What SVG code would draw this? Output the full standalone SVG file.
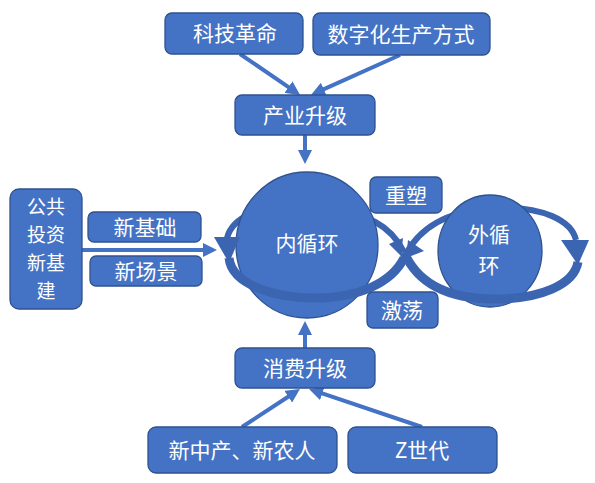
<svg xmlns="http://www.w3.org/2000/svg" width="595" height="483" viewBox="0 0 595 483">
<defs>
<style>
.box{fill:#4472C4;stroke:#2F528F;stroke-width:1.3}
.t{fill:#FFFFFF;font-family:"Noto Sans CJK SC","Noto Sans",sans-serif;font-size:21px;text-anchor:middle}
.ts{font-size:19px}
.ln{stroke:#4472C4;stroke-width:4;fill:none;marker-end:url(#ah)}
.band{fill:none;stroke:#3B65B1;stroke-linecap:butt}
.head{fill:#3B65B1}
</style>
<marker id="ah" markerUnits="userSpaceOnUse" markerWidth="14" markerHeight="14" viewBox="0 0 14 14" refX="4" refY="7" orient="auto">
<path d="M0,0 L14,7 L0,14 z" fill="#4472C4"/>
</marker>
</defs>
<rect width="595" height="483" fill="#FFFFFF"/>

<g id="connectors">
<line class="ln" x1="240" y1="54" x2="291.8" y2="89.3"/>
<line class="ln" x1="400" y1="55" x2="320.1" y2="90.8"/>
<line class="ln" x1="305" y1="135" x2="305" y2="154"/>
<line class="ln" x1="82" y1="250" x2="207" y2="250"/>
<line class="ln" x1="305" y1="348" x2="305" y2="331"/>
<line class="ln" x1="242" y1="427" x2="291.6" y2="394.5"/>
<line class="ln" x1="422" y1="427" x2="318.5" y2="392.2"/>
</g>

<g id="rings-back">
<path class="band" stroke-width="6" d="M404 252 C392 228,372 212,310 206 C260 203,232 218,227 238"/>
<path class="band" stroke-width="6" d="M404 258 C416 232,440 212,490 208 C545 205,572 222,576 240"/>
</g>

<g id="n-inner">
<ellipse class="box" cx="307" cy="245" rx="71" ry="73"/>
<text class="t" x="307" y="251">内循环</text>
</g>
<g id="n-outer">
<ellipse class="box" cx="490" cy="251" rx="52" ry="56"/>
<text class="t" x="489" y="242">外循</text>
<text class="t" x="489" y="273">环</text>
</g>

<g id="rings-front">
<path class="band" stroke-width="9" d="M229 258 C232 285,275 298,315 298 C360 298,392 282,404 258"/>
<path class="band" stroke-width="9" d="M578 262 C574 285,540 299,495 299 C450 299,418 285,404 252"/>
<polygon class="head" points="214,237 240,237 229,263"/>
<polygon class="head" points="561,240 589,240 578,265"/>
<polygon class="head" points="389,244 403,238 401,256"/>
<polygon class="head" points="424,251 408,240 406,258"/>
</g>

<g id="n-keji">
<rect class="box" x="165" y="13" width="138" height="41" rx="7"/>
<text class="t" x="235" y="41">科技革命</text>
</g>
<g id="n-shuzi">
<rect class="box" x="313" y="13" width="177" height="42" rx="7"/>
<text class="t" x="401" y="42">数字化生产方式</text>
</g>
<g id="n-chanye">
<rect class="box" x="235" y="95" width="140" height="40" rx="7"/>
<text class="t" x="305" y="123">产业升级</text>
</g>
<g id="n-gonggong">
<rect class="box" x="10" y="189" width="72" height="120" rx="9"/>
<text class="t ts" x="46" y="214">公共</text>
<text class="t ts" x="46" y="242">投资</text>
<text class="t ts" x="46" y="270">新基</text>
<text class="t ts" x="46" y="298">建</text>
</g>
<g id="n-xinjichu">
<rect class="box" x="88" y="212" width="113" height="30" rx="6"/>
<text class="t" x="145" y="235">新基础</text>
</g>
<g id="n-xinchangjing">
<rect class="box" x="90" y="256" width="112" height="30" rx="6"/>
<text class="t" x="146" y="279">新场景</text>
</g>
<g id="n-chongsu">
<rect class="box" x="370" y="177" width="72" height="36" rx="6"/>
<text class="t" x="406" y="203">重塑</text>
</g>
<g id="n-jidang">
<rect class="box" x="367" y="292" width="71" height="36" rx="6"/>
<text class="t" x="402" y="318">激荡</text>
</g>
<g id="n-xiaofei">
<rect class="box" x="235" y="348" width="140" height="40" rx="7"/>
<text class="t" x="305" y="376">消费升级</text>
</g>
<g id="n-xinzhongchan">
<rect class="box" x="148" y="427" width="189" height="46" rx="8"/>
<text class="t" x="242" y="458">新中产、新农人</text>
</g>
<g id="n-zgen">
<rect class="box" x="348" y="427" width="149" height="46" rx="8"/>
<text class="t" x="422" y="458">Z世代</text>
</g>
</svg>
